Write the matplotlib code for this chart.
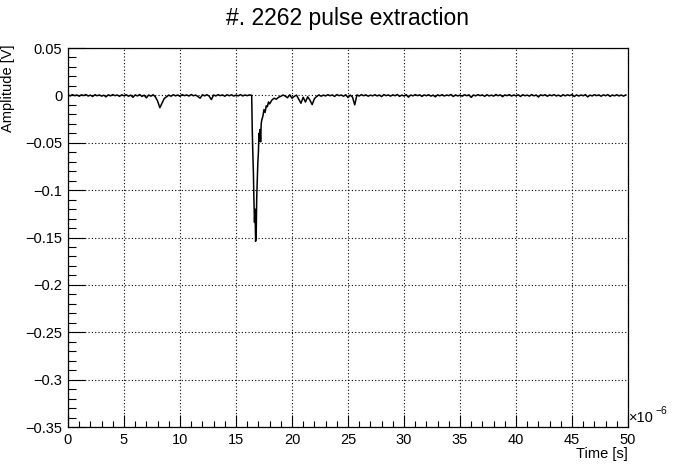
import numpy as np
import matplotlib
matplotlib.use("Agg")
import matplotlib.pyplot as plt
from matplotlib.ticker import MultipleLocator, FuncFormatter

plt.rcParams['font.family'] = ['Liberation Sans', 'DejaVu Sans']

# ---- data (time in microseconds, amplitude in mV) ----
dt_us = 0.2

# baseline before the main pulse, samples from t = 0.0 us
pre_mv = [
    0.5, -0.6, 0.8, -0.3, 0.4, -0.9, 0.6, -0.2, 0.9, -0.7,
    0.3, -1.2, 0.7, -0.4, 0.5, -0.8, 0.2, -1.6, 0.6, -0.5,
    0.8, -0.3, 0.4, -1.0, 0.6, -0.4, 0.7, -0.9, 0.3, -2.0,
    0.5, -0.6, 0.9, -1.1, 0.2, -2.6, 0.4, -0.8, 0.6, -1.5,
    -6.0, -13.0, -8.0, -3.2, -1.4, 0.3, -0.9, 0.7, -0.5, 0.4,
    -1.0, 0.8, -0.3, 0.5, -0.7, 0.9, -0.4, 0.3, -1.2, -3.0,
    0.6, -0.5, 0.7, -0.8, -4.5, 0.4, -0.6, 0.8, -0.3, 0.5,
    -0.9, 0.7, -0.4, 0.6, -0.7, 0.3, -0.5, 0.8, -0.6, 0.4,
    -0.3, 0.5,
]

# main pulse, finer sampling
pulse_t_us = [16.40, 16.45, 16.50, 16.55, 16.60, 16.65, 16.70, 16.75, 16.80,
              16.85, 16.90, 16.95, 17.00, 17.05, 17.10, 17.15, 17.20, 17.25,
              17.30, 17.40, 17.50, 17.60, 17.70, 17.80, 17.90, 18.00, 18.20,
              18.40, 18.60, 18.80, 19.00]
pulse_mv = [0.0, -35.0, -60.0, -80.0, -110.0, -134.0, -120.0, -154.0, -150.0,
            -108.0, -90.0, -71.0, -60.0, -40.0, -48.0, -36.0, -49.0, -30.0,
            -26.0, -22.0, -15.0, -18.0, -11.0, -12.0, -7.0, -9.0, -5.0,
            -3.0, -4.0, -2.0, -1.0]

# tail / baseline after the pulse, samples from t = 19.2 us
post_mv = [
    0.4, -0.8, -2.5, 0.6, -3.0, -1.0, 0.3, -4.0, -8.3, -2.0,
    -7.0, -1.5, -5.0, -9.7, -3.5, -1.2, 0.5, -0.9, 0.3, -0.6,
    0.7, -0.4, 0.5, -1.1, 0.8, -0.3, 0.4, -0.9, 0.6, -2.2,
    0.3, -1.8, -10.0, 0.5, -0.7, 0.8, -0.4, 0.6, -0.9, 0.3,
    -0.5, 0.7, -0.6, 0.4, -1.3, 0.8, -0.3, 0.5, -0.8, 0.6,
    -0.4, 0.9, -1.0, 0.3, -0.6, 0.7, -1.9, 0.4, -0.5, 0.8,
    -0.3, 0.6, -1.1, 0.5, -0.4, 0.7, -0.8, 0.3, -1.5, 0.6,
    -0.5, 0.8, -0.7, 0.4, -0.3, 0.9, -1.2, 0.5, -0.6, 0.3,
    -0.9, 0.7, -0.4, 0.6, -2.1, 0.4, -0.5, 0.8, -0.3, 0.5,
    -1.0, 0.7, -0.6, 0.3, -0.8, 0.9, -0.4, 0.6, -1.4, 0.5,
    -0.3, 0.8, -0.7, 0.4, -0.5, 0.6, -1.1, 0.7, -0.4, 0.3,
    -0.8, 0.9, -0.5, 0.4, -1.7, 0.6, -0.3, 0.7, -0.9, 0.5,
    -0.4, 0.8, -0.6, 0.3, -1.0, 0.7, -0.5, 0.6, -0.3, 0.9,
    -1.2, 0.5, -0.7, 0.4, -0.4, 0.8, -1.6, 0.3, -0.6, 0.7,
    -0.3, 0.5, -0.9, 0.6, -0.4, 0.8, -1.1, 0.4, -0.5, 0.7,
    -0.6, 0.4, -0.8, 0.5,
]

t_pre = 0.0 + dt_us * np.arange(len(pre_mv))
t_post = 19.2 + dt_us * np.arange(len(post_mv))
time_us = np.concatenate([t_pre, pulse_t_us, t_post])
amp_v = np.concatenate([pre_mv, pulse_mv, post_mv]) / 1000.0

title = "#. 2262 pulse extraction"

# ---- figure ----
W, H = 698, 475
fig = plt.figure(figsize=(W / 100, H / 100), dpi=100)
ax = fig.add_axes([68 / W, 1 - 427 / H, (628 - 68) / W, (427 - 48) / H])

ax.plot(time_us, amp_v, color='black', linewidth=1.1)

ax.set_xlim(0, 50)
ax.set_ylim(-0.35, 0.05)

ax.xaxis.set_major_locator(MultipleLocator(5))
ax.xaxis.set_minor_locator(MultipleLocator(1))
ax.yaxis.set_major_locator(MultipleLocator(0.05))
ax.yaxis.set_minor_locator(MultipleLocator(0.01))

ax.xaxis.set_major_formatter(FuncFormatter(lambda v, p: f"{v:g}"))
ax.yaxis.set_major_formatter(
    FuncFormatter(lambda v, p: "0" if abs(v) < 1e-9 else f"{v:g}".replace("-", "\u2212")))

ax.tick_params(axis='both', which='both', direction='in', color='black',
               labelsize=10.5, width=0.8)
ax.tick_params(axis='x', which='major', length=9, pad=4)
ax.tick_params(axis='x', which='minor', length=4.5)
ax.tick_params(axis='y', which='major', length=12, pad=4)
ax.tick_params(axis='y', which='minor', length=6)

ax.grid(True, which='major', color='black', linestyle=(0, (1, 2)), linewidth=0.8)
for s in ax.spines.values():
    s.set_linewidth(0.9)

fig.text(348 / W, 1 - 18 / H, title, ha='center', va='center', fontsize=16.5)
fig.text(628 / W, 1 - 454 / H, "Time [s]", ha='right', va='center', fontsize=10.5)
fig.text(8 / W, 1 - 44 / H, "Amplitude [V]", ha='center', va='top',
         rotation=90, fontsize=10.5)
fig.text(629 / W, 1 - 418 / H, "\u00d710", ha='left', va='center', fontsize=10.5)
fig.text(655 / W, 1 - 411 / H, "\u22126", ha='left', va='center', fontsize=7.5)

fig.savefig("out.png", dpi=100, facecolor='white')
